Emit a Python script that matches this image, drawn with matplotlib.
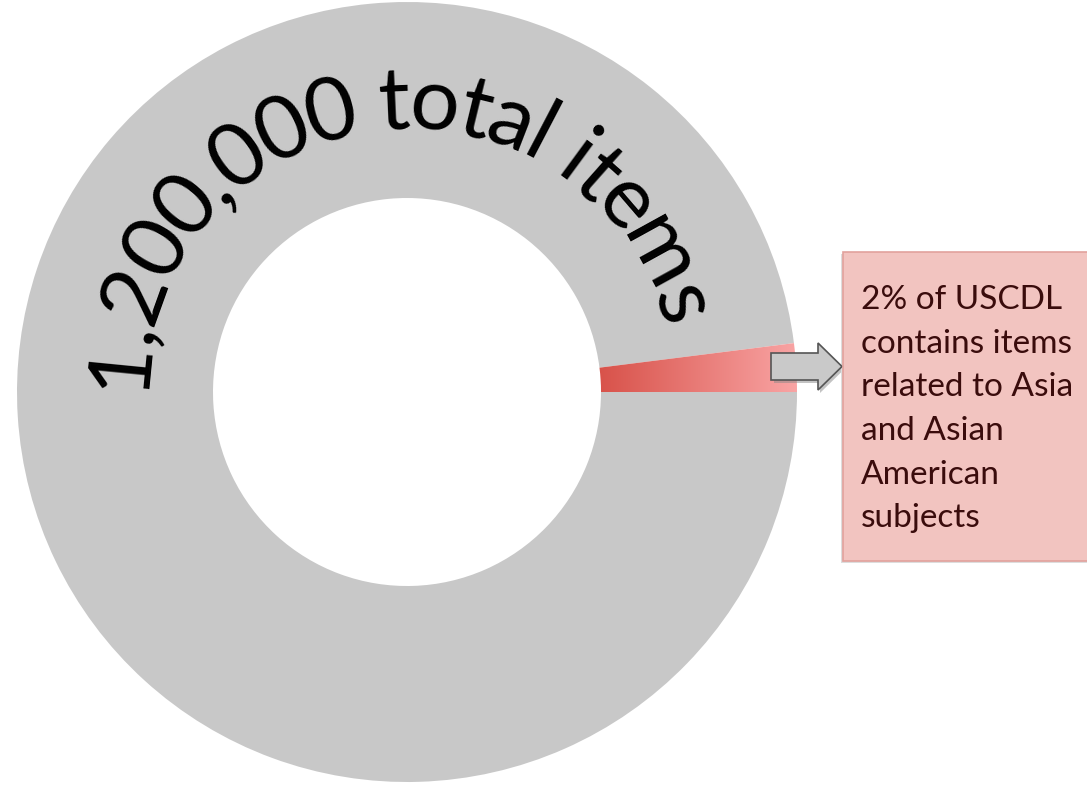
import matplotlib
matplotlib.use("Agg")
import matplotlib.pyplot as plt
import matplotlib.patches as mpatches
import numpy as np
from matplotlib.colors import LinearSegmentedColormap
from matplotlib.font_manager import FontProperties
from matplotlib.textpath import TextToPath

# ---- data ----
labels = ["Asia and Asian American subjects", "Other items"]
shares = [2, 98]
ring_colors = ["#e06a62", "#c8c8c8"]
ring_title = "1,200,000 total items"
callout_text = "2% of USCDL\ncontains items\nrelated to Asia\nand Asian\nAmerican\nsubjects"

W, H = 1087, 786
fig = plt.figure(figsize=(W / 100, H / 100), dpi=100)
ax = fig.add_axes([0, 0, 1, 1])

cx, cy = 407, 786 - 392
r_out, width = 390, 196

wedges, _ = ax.pie(shares, radius=r_out, center=(cx, cy), startangle=0,
                   counterclock=True, colors=ring_colors,
                   wedgeprops=dict(width=width, linewidth=0))

# gradient fill for the highlighted slice
red = wedges[0]
cmap = LinearSegmentedColormap.from_list("g", ["#d8524a", "#f9a5a5"])
grad = np.linspace(0, 1, 256).reshape(1, -1)
im = ax.imshow(grad, cmap=cmap, extent=(cx + r_out - width - 2, cx + r_out + 2, cy - 2, cy + 60),
               aspect="auto", zorder=2)
im.set_clip_path(red)
red.set_facecolor("none")

ax.set_xlim(0, W)
ax.set_ylim(0, H)
ax.set_aspect("auto")
ax.axis("off")

# ---- curved title text ----
fp = FontProperties(family="Lato", size=63)
t2p = TextToPath()
def adv(ch):
    a = t2p.get_text_width_height_descent("n" + ch + "n", fp, ismath=False)[0]
    b = t2p.get_text_width_height_descent("nn", fp, ismath=False)[0]
    return a - b
widths = [adv(c) for c in ring_title]
total = sum(widths)
theta_start, theta_end = 179.5, 14.0
span = theta_start - theta_end
r_base = 263
cum = 0.0
for ch, w in zip(ring_title, widths):
    frac = (cum + w / 2) / total
    th = theta_start - frac * span
    rad = np.deg2rad(th)
    ax.text(cx + r_base * np.cos(rad), cy + r_base * np.sin(rad), ch,
            fontproperties=fp, color="black", rotation=th - 90,
            rotation_mode="anchor", ha="center", va="baseline", zorder=5)
    cum += w

# ---- arrow ----
ay = 786 - 366.5
shadow = mpatches.FancyArrow(774, ay - 3, 70, 0, width=27, head_width=47, head_length=24,
                             length_includes_head=True, facecolor="#888888", edgecolor="none",
                             alpha=0.5, zorder=3)
ax.add_patch(shadow)
arrow = mpatches.FancyArrow(771, ay, 71, 0, width=27, head_width=47, head_length=24,
                            length_includes_head=True, facecolor="#c9c9c9", edgecolor="#555555",
                            linewidth=1.2, zorder=4)
ax.add_patch(arrow)

# ---- callout box ----
box_shadow = mpatches.Rectangle((841, 786 - 563), 260, 309, facecolor="#dddddd",
                                edgecolor="none", zorder=3)
ax.add_patch(box_shadow)
box = mpatches.Rectangle((843, 786 - 561), 260, 309, facecolor="#f2c4c0",
                         edgecolor="#e2a29d", linewidth=1.2, zorder=4)
ax.add_patch(box)
ax.text(861, 786 - 285, callout_text, fontfamily="Lato", fontsize=24, color="#3a0c0c",
        ha="left", va="top", linespacing=1.57, zorder=5)

fig.savefig("out.png", dpi=100)
